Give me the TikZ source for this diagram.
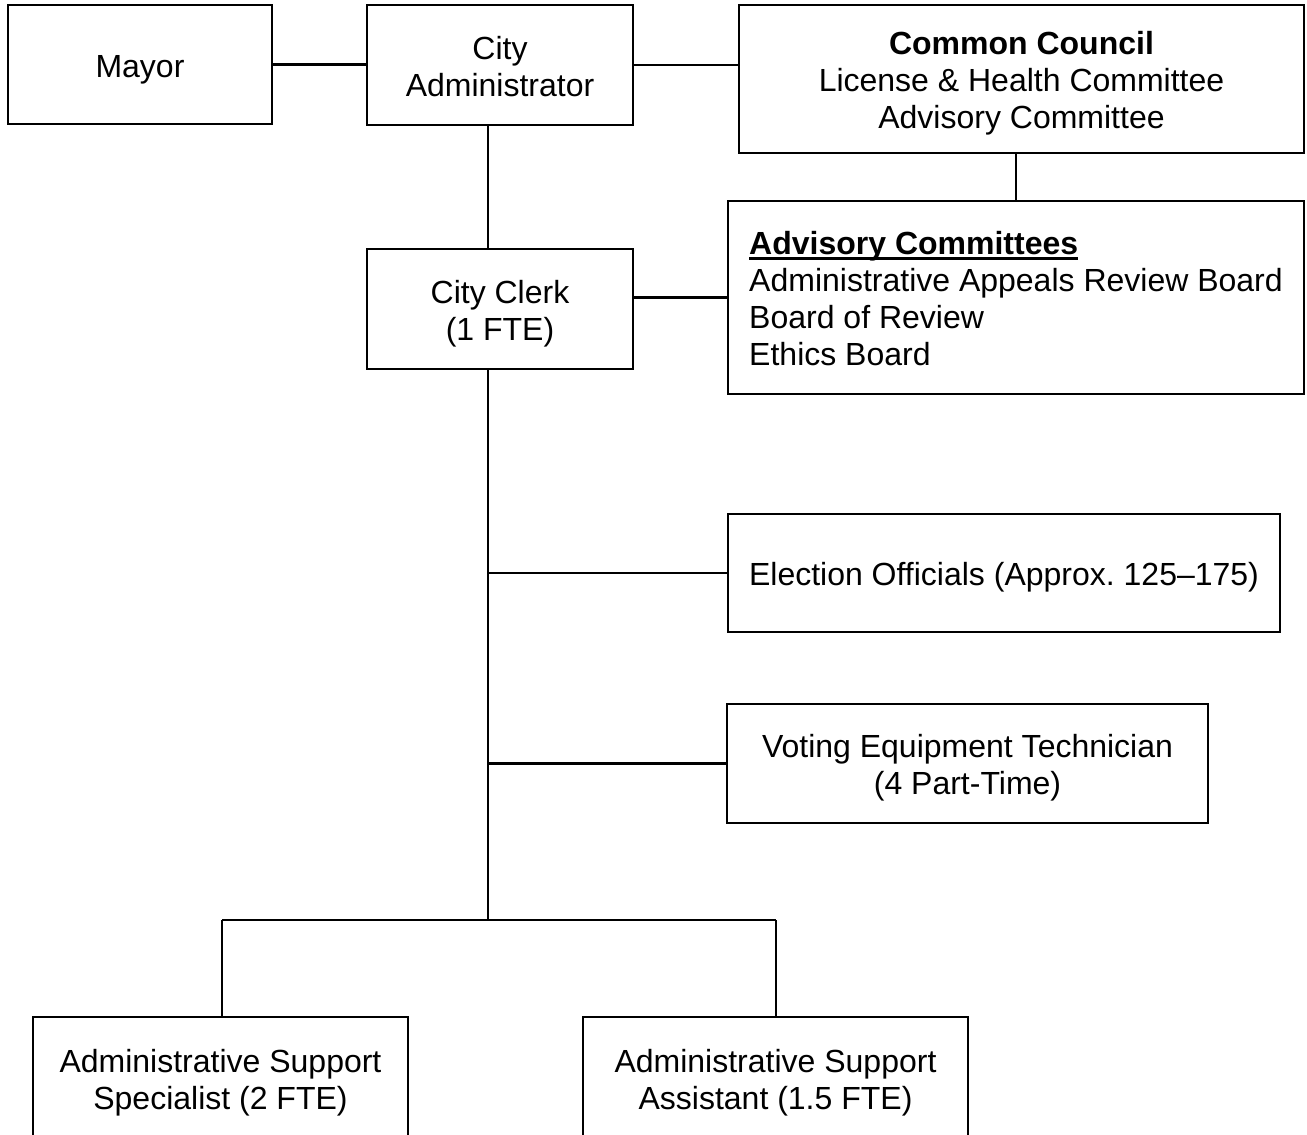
\documentclass[tikz,border=0pt]{standalone}
\usepackage{fontspec}
\setmainfont{Liberation Sans}
% thick underline for the committee heading
\newcommand\headline[1]{\setbox0\hbox{#1}\rlap{\rule[-4pt]{\wd0}{2.2pt}}\box0}
% struts so that text sits like the word-processor line boxes
\newcommand\lift{\rule{0pt}{23.9pt}}
\newcommand\sink{\rule[-5.1pt]{0pt}{0pt}}
\tikzset{
  unit/.style={draw=black, line width=1.6pt, inner sep=0pt, align=center,
    font=\fontsize{24}{27.75}\selectfont},
  link/.style={black, line width=1.6pt}
}
\begin{document}
\begin{tikzpicture}[x=0.75pt, y=-0.75pt]
                \useasboundingbox (0, 0) rectangle (1307, 1135);
                \clip (0, 0) rectangle (1307, 1135);
                % Top row
                \node [unit, minimum width=198pt, minimum height=89.25pt] (mayor) at (140, 64.5) {\lift Mayor\sink};
                \node [unit, minimum width=199.5pt, minimum height=90pt] (admin) at (500, 65) {\lift City\\Administrator\sink};
                \node [unit, minimum width=423.75pt, minimum height=111pt] (council) at (1021.5, 79)
                    {\lift\textbf{Common Council}\\License \& Health Committee\\Advisory Committee\sink};
                % Clerk and committees
                \node [unit, minimum width=199.5pt, minimum height=90pt] (clerk) at (500, 309) {\lift City Clerk\\(1 FTE)\sink};
                \node [unit, align=left, minimum width=432pt, minimum height=144.75pt] (advisory) at (1016, 297.5)
                    {\lift\headline{\textbf{Advisory Committees}}\\Administrative Appeals Review Board\\Board of Review\\Ethics Board\sink};
                % Staff
                \node [unit, minimum width=414pt, minimum height=88.5pt] (election) at (1004, 573) {\lift Election Officials (Approx.\ 125--175)\sink};
                \node [unit, minimum width=360.75pt, minimum height=89.25pt] (voting) at (967.5, 763.5) {\lift Voting Equipment Technician\\(4 Part-Time)\sink};
                \node [unit, minimum width=281.25pt, minimum height=91.5pt] (specialist) at (220.5, 1078) {\lift Administrative Support\\Specialist (2 FTE)\sink};
                \node [unit, minimum width=288.75pt, minimum height=91.5pt] (assistant) at (775.5, 1078) {\lift Administrative Support\\Assistant (1.5 FTE)\sink};
                % Trunk and branch points
                \coordinate (stem) at (488, 920);
                \coordinate (leftdrop) at (222, 920);
                \coordinate (rightdrop) at (776, 920);
                % Connectors
                \draw [link] (mayor.east) -- (mayor.east -| admin.west);
                \draw [link] (admin.east) -- (admin.east -| council.west);
                \draw [link] (admin.south -| stem) -- (clerk.north -| stem);
                \draw [link] (council.south -| advisory.north) -- (advisory.north);
                \draw [link] (clerk.east |- advisory.west) -- (advisory.west);
                \draw [link] (clerk.south -| stem) -- (stem);
                \draw [link] (election.west -| stem) -- (election.west);
                \draw [link] (voting.west -| stem) -- (voting.west);
                \draw [link] (leftdrop) -- (rightdrop);
                \draw [link] (leftdrop) -- (specialist.north -| leftdrop);
                \draw [link] (rightdrop) -- (assistant.north -| rightdrop);
            \end{tikzpicture}
\end{document}
